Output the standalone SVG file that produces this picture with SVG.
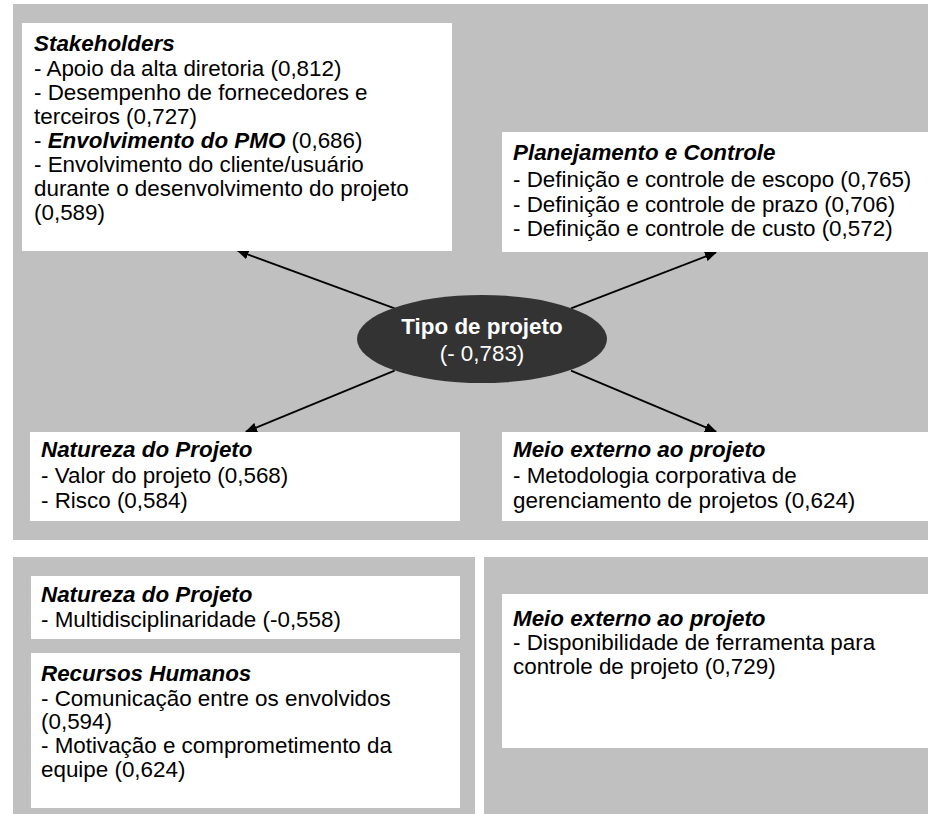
<svg xmlns="http://www.w3.org/2000/svg" width="928" height="814" viewBox="0 0 928 814">
<defs>
<style>
.panel{fill:#c0c0c0}
.box{fill:#ffffff}
text{font-family:"Liberation Sans",Arial,sans-serif;font-size:22.4px;fill:#000}
.t{font-weight:bold;font-style:italic}
.w{fill:#fff}
.b{font-weight:bold}
.con{stroke:#000;stroke-width:1.8;fill:none;marker-end:url(#ah)}
</style>
<marker id="ah" viewBox="0 0 12 10" refX="11" refY="5" markerWidth="12" markerHeight="10" markerUnits="userSpaceOnUse" orient="auto">
<path d="M0,0 L12,5 L0,10 Z" fill="#000"/>
</marker>
</defs>
<rect width="928" height="814" fill="#fff"/>
<g id="panels">
<rect class="panel" x="13" y="4" width="915" height="536"/>
<rect class="panel" x="13" y="557" width="462" height="257"/>
<rect class="panel" x="484" y="557" width="444" height="257"/>
</g>
<g id="connectors">
<line class="con" x1="394.6" y1="308.3" x2="237.5" y2="250.7"/>
<line class="con" x1="571" y1="308.3" x2="716" y2="252.5"/>
<line class="con" x1="394.6" y1="370.7" x2="246" y2="431.7"/>
<line class="con" x1="571" y1="370.7" x2="716" y2="431.7"/>
</g>
<g id="center">
<ellipse cx="482" cy="339" rx="125" ry="44" fill="#333333"/>
<text class="b w" x="482" y="334" text-anchor="middle" font-size="22">Tipo de projeto</text>
<text class="w" x="482" y="361" text-anchor="middle" font-size="22">(- 0,783)</text>
</g>
<g id="stakeholders">
<rect class="box" x="22" y="23" width="430" height="228"/>
<text class="t" x="34" y="51">Stakeholders</text>
<text x="34" y="76">- Apoio da alta diretoria (0,812)</text>
<text x="34" y="100">- Desempenho de fornecedores e</text>
<text x="34" y="124">terceiros (0,727)</text>
<text x="34" y="148">- <tspan class="t">Envolvimento do PMO</tspan> (0,686)</text>
<text x="34" y="172">- Envolvimento do cliente/usuário</text>
<text x="34" y="196">durante o desenvolvimento do projeto</text>
<text x="34" y="220">(0,589)</text>
</g>
<g id="planejamento">
<rect class="box" x="502" y="132" width="426" height="120"/>
<text class="t" x="513" y="160">Planejamento e Controle</text>
<text x="513" y="187">- Definição e controle de escopo (0,765)</text>
<text x="513" y="212">- Definição e controle de prazo (0,706)</text>
<text x="513" y="236">- Definição e controle de custo (0,572)</text>
</g>
<g id="natureza1">
<rect class="box" x="30" y="432" width="430" height="89"/>
<text class="t" x="41" y="457">Natureza do Projeto</text>
<text x="41" y="483">- Valor do projeto (0,568)</text>
<text x="41" y="508">- Risco (0,584)</text>
</g>
<g id="meio1">
<rect class="box" x="502" y="432" width="426" height="89"/>
<text class="t" x="513" y="457">Meio externo ao projeto</text>
<text x="513" y="483">- Metodologia corporativa de</text>
<text x="513" y="508">gerenciamento de projetos (0,624)</text>
</g>
<g id="natureza2">
<rect class="box" x="31" y="576" width="429" height="63"/>
<text class="t" x="41" y="602">Natureza do Projeto</text>
<text x="41" y="627">- Multidisciplinaridade (-0,558)</text>
</g>
<g id="recursos">
<rect class="box" x="31" y="653" width="429" height="155"/>
<text class="t" x="41" y="681">Recursos Humanos</text>
<text x="41" y="706">- Comunicação entre os envolvidos</text>
<text x="41" y="729">(0,594)</text>
<text x="41" y="753">- Motivação e comprometimento da</text>
<text x="41" y="777">equipe (0,624)</text>
</g>
<g id="meio2">
<rect class="box" x="502" y="594" width="426" height="154"/>
<text class="t" x="513" y="626">Meio externo ao projeto</text>
<text x="513" y="650">- Disponibilidade de ferramenta para</text>
<text x="513" y="674">controle de projeto (0,729)</text>
</g>
</svg>
